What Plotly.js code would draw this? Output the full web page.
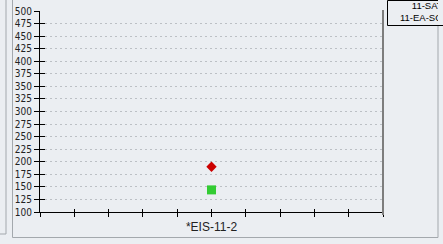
<!DOCTYPE html>
<html>
<head>
<meta charset="utf-8">
<script src="https://cdn.plot.ly/plotly-3.0.1.min.js"></script>
<style>html,body{margin:0;padding:0;background:#ebeef2;}#chart{width:443px;height:244px;}</style>
</head>
<body>
<div id="chart"></div>
<script>
// ---- data ----
var categories = ['*EIS-11-2'];
var seriesNames = ['11-SAT', '11-EA-SO'];
var seriesA = [190];   // red diamond
var seriesB = [144];   // green square
var yTickStart = 100, yTickEnd = 500, yTickStep = 25;

// ---- layout helpers (pixel -> paper) ----
var W = 443, H = 244, L = 40, R = 60, T = 11, B = 32;
var PW = W - L - R, PH = H - T - B;
function px(x){ return (x - L) / PW; }
function py(y){ return (H - B - y) / PH; }
var BG = '#ebeef2';

var traces = [
  {x: categories, y: seriesA, name: seriesNames[0], type: 'scatter', mode: 'markers',
   marker: {symbol: 'diamond', size: 8, color: '#cc0000'}, showlegend: false, cliponaxis: false},
  {x: categories, y: seriesB, name: seriesNames[1], type: 'scatter', mode: 'markers',
   marker: {symbol: 'square', size: 9, color: '#33cc33'}, showlegend: false, cliponaxis: false},
  {x: [], y: [], xaxis: 'x', yaxis: 'y2', showlegend: false, hoverinfo: 'skip'},
  {x: [], y: [], xaxis: 'x2', yaxis: 'y', showlegend: false, hoverinfo: 'skip'},
  {x: [], y: [], xaxis: 'x3', yaxis: 'y', showlegend: false, hoverinfo: 'skip'}
];

var half = 5;
var layout = {
  width: W, height: H,
  margin: {l: L, r: R, t: T, b: B, pad: 0},
  paper_bgcolor: BG, plot_bgcolor: BG,
  showlegend: false,
  xaxis: {type: 'category', range: [-half, half], ticks: '', showgrid: false, zeroline: false,
          showline: true, linecolor: '#000', linewidth: 1,
          tickfont: {family: 'Arial, Liberation Sans, sans-serif', size: 12, color: '#222'},
          ticklabelstandoff: 4, fixedrange: true},
  xaxis2: {overlaying: 'x', anchor: 'y', side: 'bottom', range: [-half, half], dtick: 1, tick0: 0,
           ticks: 'outside', ticklen: 4, tickcolor: '#000', tickwidth: 1,
           showticklabels: false, showgrid: false, zeroline: false, showline: false},
  xaxis3: {overlaying: 'x', anchor: 'y', side: 'bottom', range: [-half, half], dtick: 1, tick0: 0,
           ticks: 'inside', ticklen: 3, tickcolor: '#000', tickwidth: 1,
           showticklabels: false, showgrid: false, zeroline: false, showline: false},
  yaxis: {range: [yTickStart, yTickEnd], dtick: yTickStep, tick0: yTickStart,
          ticks: 'outside', ticklen: 5, tickcolor: '#000', tickwidth: 1,
          showline: true, linecolor: '#000', linewidth: 1, zeroline: false,
          showgrid: true, gridcolor: '#bcc0c5', gridwidth: 1, griddash: '2px,3px',
          tickfont: {family: 'Liberation Sans Narrow, DejaVu Sans Condensed, sans-serif', size: 10, color: '#222'},
          fixedrange: true},
  yaxis2: {overlaying: 'y', anchor: 'x', side: 'left', range: [yTickStart, yTickEnd], dtick: yTickStep, tick0: yTickStart,
           ticks: 'inside', ticklen: 5, tickcolor: '#000', tickwidth: 1,
           showticklabels: false, showgrid: false, zeroline: false, showline: false},
  shapes: [
    {type: 'rect', xref: 'paper', yref: 'paper', x0: px(-5), x1: px(6), y0: py(234), y1: py(-5),
     line: {color: '#a3a8ad', width: 1}, fillcolor: 'rgba(0,0,0,0)', layer: 'above'},
    {type: 'rect', xref: 'paper', yref: 'paper', x0: px(12.5), x1: px(438), y0: py(237.5), y1: py(-5),
     line: {color: '#a3a8ad', width: 1}, fillcolor: 'rgba(0,0,0,0)', layer: 'above'},
    {type: 'line', xref: 'paper', yref: 'paper', x0: 1, x1: 1, y0: py(215), y1: py(10),
     line: {color: '#7d7d7d', width: 2}, layer: 'above'},
    {type: 'rect', xref: 'paper', yref: 'paper', x0: px(387.5), x1: px(470), y0: py(25.5), y1: py(0.5),
     line: {color: '#000', width: 1}, fillcolor: BG, layer: 'above'}
  ],
  annotations: [
    {xref: 'paper', yref: 'paper', x: px(443.5), y: py(12), xanchor: 'right', yanchor: 'middle',
     text: seriesNames[0] + '<br>' + seriesNames[1], align: 'right', showarrow: false, borderpad: 0,
     font: {family: 'Arial, Liberation Sans, sans-serif', size: 9.5, color: '#000'}},
    {xref: 'paper', yref: 'paper', x: px(438.5), y: py(-2), xanchor: 'left', yanchor: 'top',
     text: '\u00a0', showarrow: false, width: 8, height: 27, bgcolor: BG, borderpad: 0, borderwidth: 0}
  ]
};

Plotly.newPlot('chart', traces, layout, {staticPlot: true, displayModeBar: false});
</script>
</body>
</html>
